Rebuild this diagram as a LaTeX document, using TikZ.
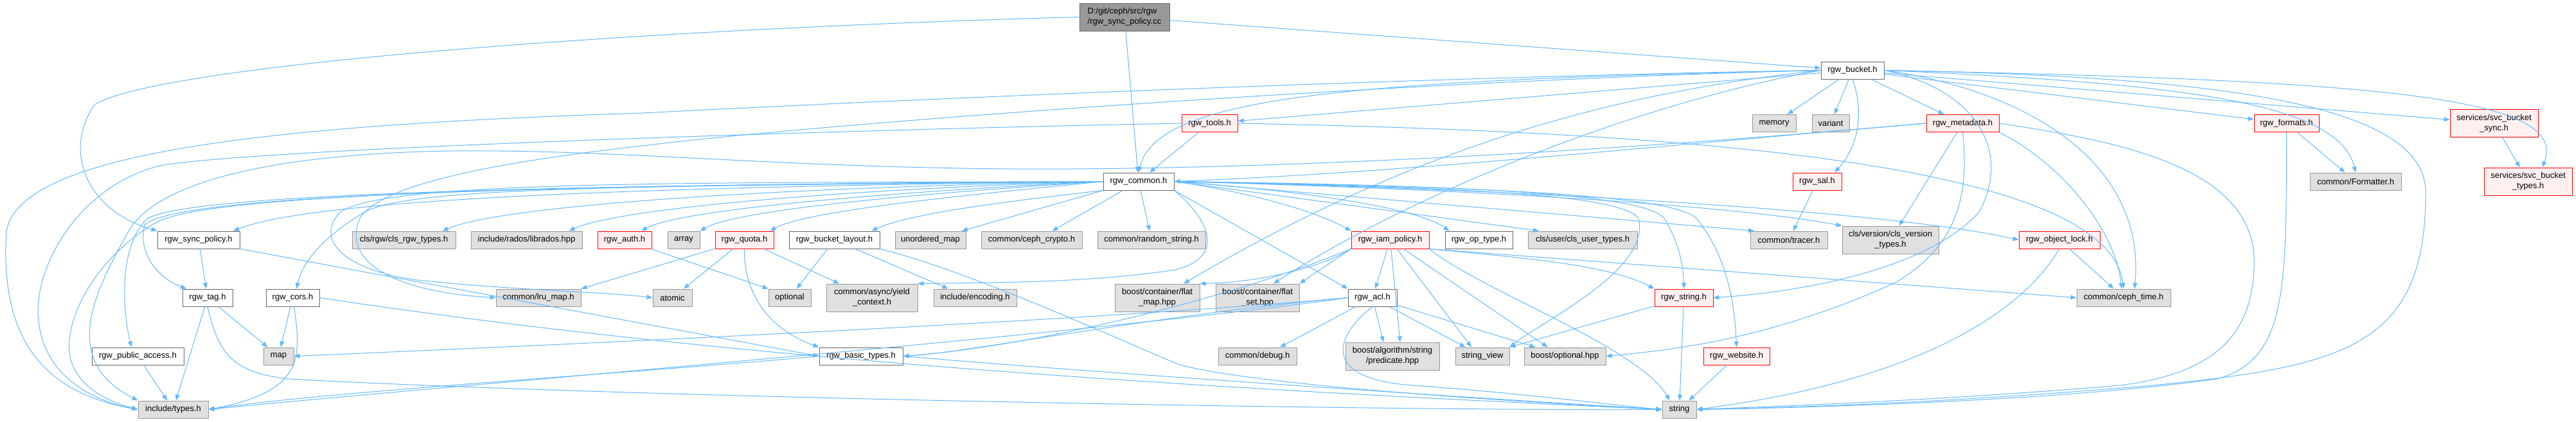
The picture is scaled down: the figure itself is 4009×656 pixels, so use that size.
\documentclass[tikz,border=0pt]{standalone}
\usepackage{fontspec}
\setmainfont{Liberation Sans}
\usetikzlibrary{arrows.meta}
\definecolor{ec}{HTML}{63B8FF}
\definecolor{gfill}{HTML}{E0E0E0}
\definecolor{gdraw}{HTML}{999999}
\definecolor{wdraw}{HTML}{666666}
\definecolor{rfill}{HTML}{FFF0F0}
\definecolor{rdraw}{HTML}{FF0000}
\definecolor{mfill}{HTML}{999999}
\tikzset{
  nd/.style={draw, line width=1pt, inner sep=2pt, minimum height=27pt, font=\fontsize{13}{16}\selectfont, text=black, align=center},
  xnode/.style={nd, fill=gfill, draw=gdraw},
  wnode/.style={nd, fill=white, draw=wdraw},
  rnode/.style={nd, fill=rfill, draw=rdraw},
  mnode/.style={nd, fill=mfill, draw=wdraw, align=left},
  two/.style={minimum height=43pt},
  e/.style={draw=ec, line width=1pt, -{Triangle[length=9pt,width=7pt]}},
}
\begin{document}
\begin{tikzpicture}[x=1pt,y=1pt]
\useasboundingbox (0,0) rectangle (4009,-656);
% rank 0
\node[mnode, two, minimum width=140pt] (main) at (1750,-26.5) {D:/git/ceph/src/rgw\\/rgw\_sync\_policy.cc};
% rank 1
\node[wnode, minimum width=98pt] (bucket) at (2883,-109.5) {rgw\_bucket.h};
% rank 2
\node[rnode, minimum width=87pt] (tools) at (1882.5,-192) {rgw\_tools.h};
\node[xnode, minimum width=68pt] (memory) at (2761,-192) {memory};
\node[xnode, minimum width=58pt] (variant) at (2849,-192) {variant};
\node[rnode, minimum width=113pt] (metadata) at (3054.5,-192) {rgw\_metadata.h};
\node[rnode, minimum width=101pt] (formats) at (3558.5,-192) {rgw\_formats.h};
\node[rnode, two, minimum width=137pt] (bsync) at (3881.5,-192) {services/svc\_bucket\\\_sync.h};
% rank 3
\node[wnode, minimum width=110pt] (common) at (1772,-282.5) {rgw\_common.h};
\node[rnode, minimum width=76pt] (sal) at (2828,-282.5) {rgw\_sal.h};
\node[xnode, minimum width=142pt] (formatter) at (3666,-282.5) {common/Formatter.h};
\node[rnode, two, minimum width=137pt] (btypes) at (3934.5,-282.5) {services/svc\_bucket\\\_types.h};
% rank 4
\node[wnode, minimum width=128pt] (syncpol) at (309,-373.5) {rgw\_sync\_policy.h};
\node[xnode, minimum width=161pt] (clsrgw) at (628.5,-373.5) {cls/rgw/cls\_rgw\_types.h};
\node[xnode, minimum width=173pt] (librados) at (819.5,-373.5) {include/rados/librados.hpp};
\node[rnode, minimum width=84pt] (auth) at (972,-373.5) {rgw\_auth.h};
\node[xnode, minimum width=50pt] (array) at (1064,-373.5) {array};
\node[rnode, minimum width=91pt] (quota) at (1158.5,-373.5) {rgw\_quota.h};
\node[wnode, minimum width=141pt] (layout) at (1298.5,-373.5) {rgw\_bucket\_layout.h};
\node[xnode, minimum width=110pt] (umap) at (1448,-373.5) {unordered\_map};
\node[xnode, minimum width=157pt] (crypto) at (1605.5,-373.5) {common/ceph\_crypto.h};
\node[xnode, minimum width=168pt] (randstr) at (1792,-373.5) {common/random\_string.h};
\node[rnode, minimum width=121pt] (iam) at (2163.5,-373.5) {rgw\_iam\_policy.h};
\node[wnode, minimum width=105pt] (optype) at (2301.5,-373.5) {rgw\_op\_type.h};
\node[xnode, minimum width=170pt] (clsuser) at (2463,-373.5) {cls/user/cls\_user\_types.h};
\node[xnode, minimum width=120pt] (tracer) at (2784,-373.5) {common/tracer.h};
\node[xnode, two, minimum width=150pt] (clsver) at (2942,-373.5) {cls/version/cls\_version\\\_types.h};
\node[rnode, minimum width=126pt] (objlock) at (3205,-373.5) {rgw\_object\_lock.h};
% rank 5
\node[wnode, minimum width=78pt] (tag) at (323,-463.5) {rgw\_tag.h};
\node[wnode, minimum width=83pt] (cors) at (455.5,-463.5) {rgw\_cors.h};
\node[xnode, minimum width=132pt] (lru) at (838,-463.5) {common/lru\_map.h};
\node[xnode, minimum width=61pt] (atomic) at (1046.5,-463.5) {atomic};
\node[xnode, minimum width=66pt] (optional) at (1229,-463.5) {optional};
\node[xnode, two, minimum width=142pt] (yield) at (1357,-463.5) {common/async/yield\\\_context.h};
\node[xnode, minimum width=129pt] (encoding) at (1517.5,-463.5) {include/encoding.h};
\node[xnode, two, minimum width=132pt] (fmap) at (1801,-463.5) {boost/container/flat\\\_map.hpp};
\node[xnode, two, minimum width=130pt] (fset) at (1957,-463.5) {boost/container/flat\\\_set.hpp};
\node[wnode, minimum width=76pt] (acl) at (2136,-463.5) {rgw\_acl.h};
\node[rnode, minimum width=91pt] (rstring) at (2620.5,-463.5) {rgw\_string.h};
\node[xnode, minimum width=146pt] (ctime) at (3305,-463.5) {common/ceph\_time.h};
% rank 6
\node[wnode, minimum width=143pt] (pubacc) at (214.5,-554.5) {rgw\_public\_access.h};
\node[xnode, minimum width=47pt] (map) at (433.5,-554.5) {map};
\node[wnode, minimum width=130pt] (basic) at (1340,-554.5) {rgw\_basic\_types.h};
\node[xnode, minimum width=122pt] (debug) at (1957,-554.5) {common/debug.h};
\node[xnode, two, minimum width=146pt] (pred) at (2167,-554.5) {boost/algorithm/string\\/predicate.hpp};
\node[xnode, minimum width=84pt] (sview) at (2307,-554.5) {string\_view};
\node[xnode, minimum width=127pt] (bopt) at (2435.5,-554.5) {boost/optional.hpp};
\node[rnode, minimum width=103pt] (website) at (2702.5,-554.5) {rgw\_website.h};
% rank 7
\node[xnode, minimum width=109pt] (types) at (269.5,-637.5) {include/types.h};
\node[xnode, minimum width=53pt] (string) at (2613.5,-637.5) {string};

% ---- main
\draw[e] (main) -- (common);
\draw[e] (main) -- (bucket);
\draw[e] (main.west) .. controls (1000,-45) and (250,-100) .. (147,-163) .. controls (95,-240) and (140,-330) .. (syncpol.north west);

% ---- rgw_bucket.h
\draw[e] (bucket) -- (memory);
\draw[e] (bucket) -- (variant);
\draw[e] (bucket.south) .. controls (2900,-170) and (2895,-225) .. ([xshift=27pt]sal.north);
\draw[e] (bucket) -- (metadata);
\draw[e] (bucket) -- (formats);
\draw[e] (bucket.east) .. controls (3400,-130) and (3640,-160) .. (formatter.north);
\draw[e] (bucket) -- (bsync);
\draw[e] (bucket.east) .. controls (3700,-125) and (4000,-150) .. ([xshift=22pt]btypes.north);
\draw[e] (bucket) -- (tools);
\draw[e] (bucket.west) .. controls (2100,-125) and (1800,-150) .. (common.north);
\draw[e] (bucket.west) .. controls (2300,-118) and (1500,-150) .. (1000,-176) .. controls (400,-195) and (30,-240) .. (10,-360) .. controls (0,-520) and (60,-610) .. (types.west);
\draw[e] (bucket.west) .. controls (2200,-125) and (1300,-190) .. (1000,-227) .. controls (750,-255) and (590,-290) .. (560,-340) .. controls (530,-410) and (620,-455) .. (lru.west);
\draw[e] (bucket.east) .. controls (3150,-140) and (3340,-250) .. ([xshift=17pt]ctime.north);
\draw[e] (bucket.east) .. controls (3500,-120) and (3775,-170) .. (3775,-300) .. controls (3775,-540) and (3650,-570) .. (3350,-600) .. controls (3000,-630) and (2750,-635) .. (string.east);
\draw[e] (bucket.east) .. controls (3080,-140) and (3130,-240) .. (3080,-330) .. controls (3000,-420) and (2800,-455) .. (rstring.east);
\draw[e] (bucket.west) .. controls (2450,-150) and (2150,-260) .. ([xshift=41pt]fmap.north);
\draw[e] (bucket.west) .. controls (2550,-160) and (2200,-300) .. ([xshift=25pt]fset.north);

% ---- rgw_tools.h
\draw[e] (tools) -- (common);
\draw[e] (tools.west) .. controls (1400,-200) and (400,-230) .. (249,-258) .. controls (120,-290) and (50,-420) .. (60,-500) .. controls (70,-590) and (150,-625) .. (types.west);
\draw[e] (tools.east) .. controls (2600,-205) and (3280,-250) .. (ctime.north);

% ---- rgw_metadata.h
\draw[e] (metadata.west) .. controls (2600,-225) and (2200,-268) .. (common.east);
\draw[e] (metadata.west) .. controls (2400,-245) and (1900,-265) .. (1574,-263) .. controls (1200,-260) and (950,-232) .. (701,-235) .. controls (400,-240) and (240,-290) .. (200,-360) .. controls (150,-450) and (90,-560) .. (types.north west);
\draw[e] (metadata) -- (clsver);
\draw[e] (metadata.south east) .. controls (3200,-250) and (3290,-350) .. ([xshift=-3pt]ctime.north);
\draw[e] (metadata.south) .. controls (3064,-300) and (3050,-380) .. (2950,-440) .. controls (2750,-530) and (2600,-545) .. (bopt.east);
\draw[e] (metadata.east) .. controls (3300,-220) and (3500,-260) .. (3508,-400) .. controls (3510,-520) and (3450,-580) .. (3300,-600) .. controls (3000,-625) and (2750,-633) .. (string.east);

% ---- rgw_formats.h, services, sal
\draw[e] (formats) -- (formatter);
\draw[e] (formats.south) .. controls (3558,-450) and (3560,-560) .. (3450,-590) .. controls (3200,-625) and (2800,-635) .. (string.east);
\draw[e] (bsync) -- (btypes);
\draw[e] (sal) -- (tracer);

% ---- rgw_common.h left fan
\draw[e] (common.west) .. controls (1100,-290) and (500,-305) .. ([xshift=54pt]syncpol.north);
\draw[e] (common.west) .. controls (1200,-292) and (780,-320) .. ([xshift=60pt]clsrgw.north);
\draw[e] (common.west) .. controls (1300,-295) and (960,-325) .. ([xshift=66pt]librados.north);
\draw[e] (common.west) .. controls (1400,-298) and (1060,-325) .. ([xshift=26pt]auth.north);
\draw[e] (common.west) .. controls (1450,-300) and (1150,-325) .. (array.north east);
\draw[e] (common.west) .. controls (1550,-300) and (1260,-325) .. ([xshift=40pt]quota.north);
\draw[e] (common.south west) .. controls (1600,-310) and (1420,-330) .. ([xshift=58pt]layout.north);
\draw[e] (common.south west) -- ([xshift=49pt]umap.north);
\draw[e] (common) -- ([xshift=32pt]crypto.north);
\draw[e] (common) -- (randstr);
\draw[e] (common.west) .. controls (900,-288) and (280,-300) .. (225,-350) .. controls (215,-390) and (240,-430) .. ([xshift=-33pt]tag.north);
\draw[e] (common.west) .. controls (1000,-290) and (640,-290) .. (568,-330) .. controls (500,-370) and (470,-410) .. ([xshift=6pt]cors.north);
\draw[e] (common.west) .. controls (900,-288) and (300,-300) .. (230,-340) .. controls (185,-380) and (190,-480) .. ([xshift=-10pt]pubacc.north);
\draw[e] (common.west) .. controls (900,-288) and (320,-300) .. (242,-347) .. controls (150,-400) and (95,-500) .. (110,-560) .. controls (125,-610) and (180,-628) .. (types.west);
\draw[e] (common.west) .. controls (1100,-285) and (600,-280) .. (530,-330) .. controls (490,-370) and (530,-420) .. (650,-436) .. controls (800,-452) and (950,-455) .. (atomic.west);
\draw[e] (common.south east) .. controls (1880,-340) and (1910,-400) .. (1829,-420) .. controls (1700,-440) and (1550,-440) .. (yield.north east);

% ---- rgw_common.h right fan
\draw[e] (common.east) .. controls (1950,-300) and (2050,-330) .. (iam.north west);
\draw[e] (common.east) .. controls (2000,-295) and (2200,-320) .. ([xshift=-46pt]optype.north);
\draw[e] (common.east) -- ([xshift=-68pt]clsuser.north);
\draw[e] (common.east) -- ([xshift=-54pt]tracer.north);
\draw[e] (common.east) .. controls (2300,-295) and (2700,-320) .. (clsver.north west);
\draw[e] (common.east) .. controls (2400,-295) and (2950,-330) .. (objlock.west);
\draw[e] (common.south east) -- (acl.north west);
\draw[e] (common.east) .. controls (2250,-288) and (2560,-300) .. (2590,-340) .. controls (2615,-380) and (2620,-420) .. (rstring.north);
\draw[e] (common.east) .. controls (2250,-290) and (2600,-300) .. (2640,-340) .. controls (2690,-400) and (2700,-480) .. (website.north);
\draw[e] (common.east) .. controls (2250,-292) and (2520,-300) .. (2550,-340) .. controls (2570,-420) and (2400,-500) .. (sview.north east);

% ---- rgw_quota.h, rgw_auth.h, rgw_bucket_layout.h
\draw[e] (quota) -- (atomic);
\draw[e] (quota) -- (lru.north east);
\draw[e] (quota.south) .. controls (1157,-450) and (1190,-510) .. (basic.north west);
\draw[e] (quota) -- ([xshift=-51pt]yield.north);
\draw[e] (auth) -- (optional.north west);
\draw[e] (layout) -- (optional);
\draw[e] (layout) -- ([xshift=-42pt]encoding.north);
\draw[e] (layout.south east) .. controls (1500,-420) and (1700,-510) .. (1833,-567) .. controls (1950,-600) and (2350,-625) .. (string.west);

% ---- rgw_iam_policy.h
\draw[e] (iam) -- (acl);
\draw[e] (iam) -- ([xshift=12pt]pred.north);
\draw[e] (iam) -- ([xshift=-17pt]sview.north);
\draw[e] (iam) -- ([xshift=-27pt]bopt.north);
\draw[e] (iam.south east) .. controls (2300,-450) and (2550,-540) .. ([xshift=-15pt]string.north);
\draw[e] (iam.south east) .. controls (2350,-400) and (2500,-410) .. (rstring.north west);
\draw[e] (iam.south east) -- (ctime.west);
\draw[e] (iam.south west) -- (fset.north east);
\draw[e] (iam.south west) .. controls (2050,-420) and (1950,-440) .. (fmap.north east);
\draw[e] (iam.south west) .. controls (1900,-470) and (1600,-540) .. (basic.east);

% ---- rgw_acl.h
\draw[e] (acl.west) .. controls (1700,-500) and (800,-540) .. (map.east);
\draw[e] (acl.west) .. controls (1800,-490) and (1500,-550) .. (basic.east);
\draw[e] (acl.west) .. controls (1700,-520) and (700,-600) .. (types.east);
\draw[e] (acl) -- ([xshift=35pt]debug.north);
\draw[e] (acl) -- ([xshift=-14pt]pred.north);
\draw[e] (acl) -- (sview);
\draw[e] (acl) -- (bopt);
\draw[e] (acl.south) .. controls (2080,-520) and (2050,-590) .. (2200,-600) .. controls (2400,-615) and (2500,-630) .. (string.west);

% ---- others
\draw[e] (rstring) -- (sview.north east);
\draw[e] (rstring) -- (string);
\draw[e] (website) -- (string);
\draw[e] (objlock) -- (ctime);
\draw[e] (objlock.south) .. controls (3150,-480) and (3000,-590) .. (string.east);
\draw[e] (syncpol) -- (tag);
\draw[e] (syncpol.south east) -- (basic.west);
\draw[e] (tag) -- (map);
\draw[e] (tag) -- (types);
\draw[e] (tag.south) .. controls (340,-550) and (360,-580) .. (450,-590) .. controls (1000,-620) and (2200,-640) .. (string.west);
\draw[e] (cors) -- (map);
\draw[e] (cors) .. controls (470,-560) and (470,-610) .. (types.east);
\draw[e] (cors.east) .. controls (1200,-570) and (2000,-610) .. (string.west);
\draw[e] (pubacc) -- (types);
\draw[e] (basic.west) .. controls (1000,-580) and (500,-610) .. (types.east);
\draw[e] (basic.east) .. controls (1700,-580) and (2300,-620) .. (string.west);
\end{tikzpicture}
\end{document}
